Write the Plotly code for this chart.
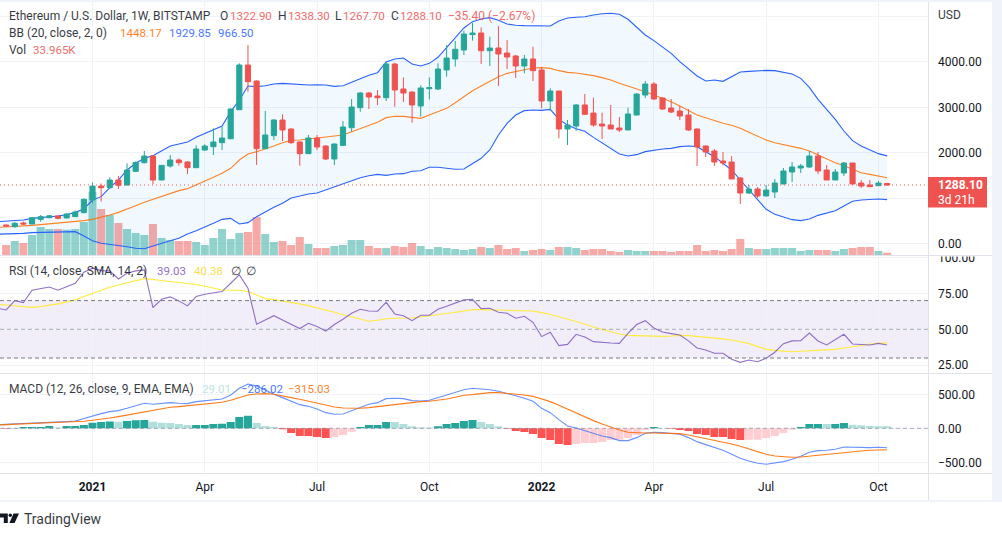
import pandas as pd
import plotly.graph_objects as go

W, H = 1002, 536
FONT = "Roboto"
GREEN, RED = "#26a69a", "#ef5350"
GRID, SEP, STRIP = "#f0f3fa", "#e0e3eb", "#f0f3fa"
BLUE, ORANGE = "#2962ff", "#ff6d00"

# weekly dates, first one lies just off the left edge
dates = pd.date_range("2020-10-19", periods=104, freq="7D")
candle_dates = dates[1:]

opens = [408,370,451,429,532,569,606,562,591,679,
 958,1266,1229,1398,1288,1589,1780,1927,1398,1707,
 1839,1795,1670,2059,2133,2221,2309,2947,3931,3579,
 2089,2375,2720,2522,2236,1979,2324,2147,1861,2162,
 2551,2992,3315,3249,3212,3953,3403,3337,3029,3410,
 3403,3822,4064,4262,4600,4636,4247,4306,4196,4130,
 3910,4064,3822,3139,3359,2522,2588,3051,2874,2632,
 2610,2544,2500,2830,3271,3513,3205,2984,2918,2830,
 2522,2147,2037,1817,1795,1443,1112,1200,1046,1134,
 1310,1575,1663,1685,1927,1619,1399,1553,1773,1332,
 1288,1274,1322.9]
highs = [415,473,481,569,628,628,620,664,723,995,
 1347,1325,1457,1486,1765,1802,2037,1949,1721,1949,
 1876,1817,2162,2184,2536,2573,2977,3968,4372,3594,
 2918,2734,2845,2536,2250,2390,2390,2162,2206,2698,
 3182,3337,3337,3381,4012,3983,3660,3351,3484,3660,
 3968,4372,4460,4687,4864,4761,4555,4790,4482,4152,
 4152,4335,3880,3418,3359,2720,3073,3293,3212,2882,
 3051,2786,2992,3307,3579,3557,3219,3183,3029,2962,
 2536,2162,2081,2015,1927,1465,1288,1244,1288,1420,
 1663,1795,1751,2037,2015,1729,1641,1795,1773,1399,
 1399,1377,1338.3]
lows = [370,349,415,429,481,554,532,554,591,664,
 885,921,1200,1200,1281,1582,1765,1303,1398,1670,
 1714,1531,1670,2044,1949,2059,2294,2940,3344,1729,
 2081,2279,2257,2192,1714,1979,2059,1839,1729,2147,
 2463,2903,2962,3051,3139,3014,3117,2661,2794,3175,
 3381,3675,3895,4152,4468,3954,3910,3469,3843,3645,
 3748,3579,2977,2926,2316,2170,2478,2830,2573,2302,
 2522,2456,2500,2830,3205,3161,2940,2874,2720,2478,
 1707,1905,1707,1721,1421,870,1090,1002,1046,1002,
 1310,1354,1553,1663,1531,1399,1399,1487,1310,1222,
 1244,1274,1267.7]
closes = [385,444,429,569,591,610,554,650,694,973,
 1266,1229,1398,1281,1618,1787,1927,1398,1721,1839,
 1780,1670,2081,2147,2236,2323,2962,3931,3564,2089,
 2390,2720,2500,2221,1979,2324,2125,1861,2191,2566,
 3006,3315,3227,3212,3953,3381,3315,3051,3425,3432,
 3843,4086,4277,4614,4636,4247,4306,4174,4108,3910,
 4064,3807,3139,3359,2522,2610,3051,2845,2610,2588,
 2522,2500,2852,3293,3513,3183,2962,2896,2808,2500,
 2125,2015,1795,1773,1421,1112,1200,1046,1178,1332,
 1597,1685,1707,1927,1597,1399,1575,1773,1310,1266,
 1252,1332,1288.1]
volume_k = [150,210,180,300,420,390,390,380,390,495,
 945,690,600,480,390,330,300,465,255,225,
 210,210,195,150,255,390,240,330,345,570,
 315,195,210,150,270,165,105,105,135,150,
 225,225,135,105,105,135,120,180,135,90,
 120,105,90,75,90,120,105,150,90,105,
 60,75,90,75,120,120,105,75,90,90,
 60,45,75,60,60,60,60,45,60,60,
 150,60,75,60,90,240,105,90,90,105,
 105,105,60,75,75,75,60,90,105,120,
 120,60,33.965]

bb_upper = [480,488,503,518,554,569,584,606,635,686,760,
 958,1032,1230,1399,1619,1766,1876,1935,2045,2148,
 2192,2236,2338,2427,2515,2588,2904,3161,3469,3455,
 3476,3513,3528,3513,3498,3491,3498,3491,3462,3476,
 3550,3631,3704,3763,3998,4064,4086,3954,3910,3968,
 4101,4313,4519,4747,4886,4945,4974,4916,4835,4806,
 4798,4798,4798,4791,4901,4967,4982,4996,5033,5062,
 5070,5048,4938,4776,4593,4468,4336,4189,4005,3858,
 3690,3579,3601,3572,3675,3778,3792,3807,3814,3807,
 3778,3733,3638,3440,3175,2955,2735,2478,2265,2148,
 2059,1979,1929.85]
bb_basis = [356,363,371,385,400,415,430,444,459,481,503,
 532,576,628,686,753,833,907,973,1032,1098,
 1164,1208,1289,1362,1457,1546,1656,1839,1971,2023,
 2081,2148,2221,2272,2280,2302,2316,2331,2368,2390,
 2463,2537,2610,2669,2772,2801,2801,2772,2757,2830,
 2904,2977,3102,3234,3366,3469,3564,3675,3748,3785,
 3836,3866,3873,3858,3807,3770,3755,3733,3697,3653,
 3601,3528,3469,3396,3344,3271,3198,3124,3029,2926,
 2830,2772,2706,2647,2603,2537,2449,2368,2280,2221,
 2184,2148,2096,2037,1949,1861,1780,1714,1641,1560,
 1523,1487,1448.17]
bb_lower = [205,209,224,224,239,246,253,261,268,261,165,
 62,4,-18,-33,-70,-106,-114,-55,11,62,
 114,209,283,356,444,532,554,430,459,591,
 701,797,885,1002,1046,1090,1112,1178,1244,1311,
 1377,1450,1494,1523,1501,1531,1538,1590,1604,1678,
 1678,1656,1634,1641,1766,1876,2059,2390,2647,2830,
 2926,2940,2933,2955,2735,2603,2529,2471,2338,2221,
 2096,1971,1927,1957,2023,2059,2081,2096,2133,2148,
 2133,2023,1913,1766,1619,1399,1178,958,753,642,
 576,525,503,540,620,664,723,826,929,958,
 973,980,966.5]

rsi = [64.7,63.5,70,68.6,77.2,78.4,79.5,77.2,79.5,82.1,89.8,
 92.6,90.9,90.7,85.1,89.1,90.7,91.4,65.1,70.9,72.6,
 69.8,66.3,72.8,74.4,75.3,76.3,82.1,87.9,78.6,53.5,
 56.5,59.5,56.5,53.5,50.5,54.2,51.9,48.8,53.3,57,
 61.2,64,62.8,62.6,68.8,60.7,59.5,56,59.8,59.8,
 64,66,68.1,70.5,70.9,64.4,64.7,61.9,
 61.2,57.7,59.1,54.9,44.9,47.9,38.6,39.5,46.5,44.7,
 41.4,41.2,40.5,40.2,47.2,53.3,56,50.9,48.1,47,
 46,41.9,37,35.6,33.3,33.3,29.1,27,28.6,27.4,
 29.8,34,40,41.9,42.1,47.4,41.9,39.1,42.8,46.5,
 39.8,39.3,39.1,40.2,39.03]
rsi_ma = [67.4,67,66.3,65.8,65.3,65.8,66.5,67.7,69.1,70.5,72.8,
 75.1,77.2,79.3,80.9,82.3,83.7,85.3,84.7,84,83.5,
 83,82.1,81.2,80,78.8,77.4,77.2,77.2,76.3,74,
 71.4,70.7,69.8,68.6,67.7,66.5,65.1,63.5,61.9,60.2,
 58.6,57,55.6,56.3,57.4,57.7,57.7,57.9,58.6,59.3,
 60,60.9,61.9,62.8,63.7,63.7,63.7,63.5,
 63.3,63,63,62.8,61.6,60.5,58.8,57.2,55.6,53.7,
 51.6,50,48.1,46.7,45.8,45.6,45.1,45.1,45.1,45.3,
 45.8,45.6,45.1,44.7,44.2,43.3,42.6,41.4,40,38.1,
 36,35.3,34.9,34.4,34.7,34.9,35.1,35.3,36,37,
 37.9,38.6,39.3,40.5,40.38]

macd = [54,59,59,64,74,83,88,93,98,108,147,
 181,216,245,260,294,328,368,353,363,377,
 368,363,392,407,417,431,490,588,652,622,
 564,500,451,402,348,323,284,230,206,211,
 255,304,353,377,436,441,436,407,402,412,
 451,490,539,568,588,583,568,544,515,480,
 441,397,294,230,127,34,5,-34,-78,-113,
 -137,-181,-181,-137,-74,-59,-64,-74,-88,-137,
 -196,-240,-284,-323,-382,-441,-480,-515,-529,-515,
 -490,-456,-412,-353,-328,-323,-309,-274,-279,-284,
 -284,-279,-286.02]
macd_signal = [49,54,59,59,64,69,74,78,83,88,103,
 118,132,152,172,196,221,245,270,289,309,
 319,333,343,353,368,382,412,451,490,505,
 510,500,480,451,426,397,368,338,314,299,
 294,294,304,319,338,353,372,387,392,397,
 412,431,456,485,495,515,524,524,515,505,
 490,470,431,392,338,279,221,167,113,64,
 15,-25,-59,-69,-69,-69,-69,-74,-78,-98,
 -123,-147,-172,-196,-230,-265,-304,-343,-382,-407,
 -421,-426,-421,-407,-397,-387,-372,-358,-343,-333,
 -323,-317,-315.03]
macd_hist = [-5,5,20,20,20,34,10,34,34,49,
 83,93,100,98,108,120,122,98,81,78,
 64,49,49,50,64,66,93,167,186,78,
 34,20,-15,-69,-112,-113,-127,-142,-132,-98,
 -49,20,49,50,93,92,64,29,15,10,
 29,64,78,108,122,93,64,29,-5,-39,
 -54,-83,-142,-172,-230,-245,-230,-216,-215,-201,
 -172,-170,-142,-98,-25,20,5,-5,-25,-39,
 -83,-98,-127,-128,-157,-172,-170,-168,-142,-113,
 -69,-20,20,64,65,63,64,78,54,44,
 32,30,29.01]

time_ticks = ["2021-01-04","2021-04-05","2021-07-05","2021-10-04","2022-01-03","2022-04-04","2022-07-04","2022-10-03"]
time_labels = ["<b>2021</b>","Apr","Jul","Oct","<b>2022</b>","Apr","Jul","Oct"]
price_ticks = [0,1000,2000,3000,4000,5000]
price_labels = ["0.00","","2000.00","3000.00","4000.00",""]
rsi_ticks = [25,50,75,100]
macd_ticks = [-500,0,500]


def px(x):
    return x / W


def py(y):
    return 1 - y / H


# 8.637 px per week, 2021-01-04 sits at x=92.5, plot area 928 px wide
first = pd.Timestamp("2021-01-04")
week = pd.Timedelta(days=7)
x_range = [first - week * (92.5 / 8.637), first + week * ((928 - 92.5) / 8.637)]
x_range = [str(t) for t in x_range]

PANE_MAIN = (2, 255)
PANE_RSI = (256.5, 373)
PANE_MACD = (374, 473.5)


def pane_range(zero_y, per_unit, pane, zero_val=0):
    top, bottom = pane
    return [zero_val - (bottom - zero_y) / per_unit, zero_val + (zero_y - top) / per_unit]


price_range = pane_range(243.5, 0.0454, PANE_MAIN)
rsi_range = pane_range(329.3, 1.435, PANE_RSI, 50)
macd_range = pane_range(428.3, 0.068, PANE_MACD)

fig = go.Figure()
LW = 1.1

vol_cols = ["rgba(38,166,154,0.5)" if c >= o else "rgba(239,83,80,0.5)" for o, c in zip(opens, closes)]
fig.add_trace(go.Bar(x=candle_dates, y=volume_k, marker=dict(color=vol_cols, line_width=0), xaxis="x", yaxis="y"))

fig.add_trace(go.Scatter(x=dates, y=bb_lower, mode="lines", line=dict(color=BLUE, width=LW), opacity=0.7, xaxis="x", yaxis="y2"))
fig.add_trace(go.Scatter(x=dates, y=bb_upper, mode="lines", line=dict(color=BLUE, width=LW), xaxis="x", yaxis="y2",
                         fill="tonexty", fillcolor="rgba(33,150,243,0.06)", opacity=0.7))
fig.add_trace(go.Scatter(x=dates, y=bb_basis, mode="lines", line=dict(color=ORANGE, width=LW), opacity=0.85, xaxis="x", yaxis="y2"))

fig.add_trace(go.Candlestick(
    x=candle_dates, open=opens, high=highs, low=lows, close=closes,
    increasing=dict(line=dict(color=GREEN, width=1), fillcolor=GREEN),
    decreasing=dict(line=dict(color=RED, width=1), fillcolor=RED),
    whiskerwidth=0, xaxis="x", yaxis="y3"))

fig.add_trace(go.Scatter(x=dates, y=rsi_ma, mode="lines", line=dict(color="#ffeb3b", width=LW), xaxis="x2", yaxis="y4"))
fig.add_trace(go.Scatter(x=dates, y=rsi, mode="lines", line=dict(color="#7e57c2", width=LW), opacity=0.85, xaxis="x2", yaxis="y4"))

hist_cols = []
prev = 0
for h in macd_hist:
    if h >= 0:
        hist_cols.append("#26a69a" if h >= prev else "#b2dfdb")
    else:
        hist_cols.append("#ff5252" if h <= prev else "#ffcdd2")
    prev = h
fig.add_trace(go.Bar(x=candle_dates, y=macd_hist, marker=dict(color=hist_cols, line_width=0), xaxis="x3", yaxis="y5"))
fig.add_trace(go.Scatter(x=dates, y=macd, mode="lines", line=dict(color=BLUE, width=LW), opacity=0.7, xaxis="x3", yaxis="y5"))
fig.add_trace(go.Scatter(x=dates, y=macd_signal, mode="lines", line=dict(color=ORANGE, width=LW), opacity=0.9, xaxis="x3", yaxis="y5"))

xcommon = dict(type="date", range=x_range, domain=[0, px(928)], tickmode="array", tickvals=time_ticks,
               ticktext=time_labels, showgrid=True, gridcolor=GRID, gridwidth=1, zeroline=False, showline=False,
               ticks="", rangeslider=dict(visible=False), fixedrange=True, automargin=False)
ycommon = dict(side="right", showline=False, zeroline=False, ticks="", fixedrange=True, automargin=False,
               tickfont=dict(family=FONT, size=12, color="#131722"), ticklabelstandoff=9)


def dom(p):
    return [py(p[1]), py(p[0])]


layout = dict(
    width=W, height=H, margin=dict(l=0, r=0, t=0, b=0, autoexpand=False), autosize=False,
    paper_bgcolor="white", plot_bgcolor="white", showlegend=False, hovermode=False,
    bargap=0.07, barmode="overlay", boxgap=0.15,
    xaxis=dict(xcommon, anchor="y", showticklabels=False),
    xaxis2=dict(xcommon, anchor="y4", showticklabels=False),
    xaxis3=dict(xcommon, anchor="y5", showticklabels=True, ticklabelstandoff=4,
                tickfont=dict(family=FONT, size=12, color="#131722")),
    yaxis=dict(domain=dom(PANE_MAIN), range=[0, 3795], showticklabels=False, showgrid=False, zeroline=False,
               fixedrange=True, anchor="x", automargin=False),
    yaxis2=dict(ycommon, domain=dom(PANE_MAIN), range=price_range, overlaying="y", anchor="x",
                tickmode="array", tickvals=price_ticks, ticktext=price_labels, showgrid=True, gridcolor=GRID),
    yaxis3=dict(domain=dom(PANE_MAIN), range=price_range, overlaying="y", anchor="x", showticklabels=False,
                showgrid=False, zeroline=False, fixedrange=True, side="right", automargin=False),
    yaxis4=dict(ycommon, domain=dom(PANE_RSI), range=rsi_range, anchor="x2", tickmode="array", tickvals=rsi_ticks,
                tickformat=".2f", showgrid=True, gridcolor=GRID),
    yaxis5=dict(ycommon, domain=dom(PANE_MACD), range=macd_range, anchor="x3", tickmode="array", tickvals=macd_ticks,
                tickformat=".2f", showgrid=True, gridcolor=GRID),
)


def rect(x0, y0, x1, y1, color, layer="above"):
    return dict(type="rect", xref="paper", yref="paper", x0=px(x0), x1=px(x1), y0=py(y0), y1=py(y1),
                fillcolor=color, line_width=0, layer=layer)


def hline(val, axis, color, dash, width=1):
    return dict(type="line", xref="paper", yref=axis, x0=0, x1=px(928), y0=val, y1=val,
                line=dict(color=color, width=width, dash=dash), layer="above")


def poly(points, color):
    d = "M " + " L ".join(f"{px(a):.5f},{py(b):.5f}" for a, b in points) + " Z"
    return dict(type="path", xref="paper", yref="paper", path=d, fillcolor=color, line_width=0, layer="above")


shapes = [
    dict(type="rect", xref="paper", yref="y4", x0=0, x1=px(928), y0=30, y1=70,
         fillcolor="rgba(126,87,194,0.1)", line_width=0, layer="below"),
    hline(70, "y4", "#787b86", "4px,3px"),
    hline(30, "y4", "#787b86", "4px,3px"),
    hline(50, "y4", "rgba(120,123,134,0.6)", "4px,3px"),
    hline(0, "y5", "rgba(120,123,134,0.6)", "4px,3px"),
    hline(closes[-1], "y2", RED, "1px,3px"),
    # clip of the RSI axis top and pane separators
    rect(929, 249.5, 992, 256.5, "white"),
    rect(0, 255, 992, 256, SEP),
    rect(0, 373, 992, 374, SEP),
    rect(0, 473, 992, 474, SEP),
    rect(928, 2, 929, 500, SEP),
    rect(0, 0, W, 2, STRIP),
    rect(992, 0, W, 502, STRIP),
    rect(0, 500, W, 502, STRIP),
    # last-price tag
    rect(928, 177, 987, 207.5, RED),
    # TradingView logo
    poly([(0, 513.5), (7.8, 513.5), (7.8, 523), (3.8, 523), (3.8, 517.5), (0, 517.5)], "#131722"),
    poly([(13.5, 513.5), (19, 513.5), (14.6, 523), (9.4, 523)], "#131722"),
    dict(type="circle", xref="paper", yref="paper", x0=px(8.6), x1=px(12), y0=py(517), y1=py(513.6),
         fillcolor="#131722", line_width=0, layer="above"),
]
layout["shapes"] = shapes

DARK = "#131722"
L_BLUE = "#2962ff"
S_TXT, S_VAL = 12, 11.5
texts = [
    (8, 16, "Ethereum / U.S. Dollar, 1W, BITSTAMP", DARK, S_TXT),
    (219, 16, "O", DARK, S_TXT), (229, 16, "1322.90", RED, S_VAL),
    (277, 16, "H", DARK, S_TXT), (287, 16, "1338.30", RED, S_VAL),
    (334, 16, "L", DARK, S_TXT), (342, 16, "1267.70", RED, S_VAL),
    (389.5, 16, "C", DARK, S_TXT), (399, 16, "1288.10", RED, S_VAL),
    (446.5, 16, "\u221235.40 (\u22122.67%)", RED, 12),
    (8, 33, "BB (20, close, 2, 0)", DARK, S_TXT),
    (118.5, 33, "1448.17", ORANGE, S_VAL), (168, 33, "1929.85", L_BLUE, S_VAL), (216.5, 33, "966.50", L_BLUE, S_VAL),
    (8, 50, "Vol", DARK, S_TXT), (32, 50, "33.965K", RED, S_VAL),
    (8, 270.5, "RSI (14, close, SMA, 14, 2)", DARK, S_TXT),
    (156, 270.5, "39.03", "#7e57c2", S_VAL), (193, 270.5, "40.38", "#fdd835", S_VAL),
    (230, 270.5, "\u2205", DARK, S_VAL), (245, 270.5, "\u2205", DARK, S_VAL),
    (8, 389, "MACD (12, 26, close, 9, EMA, EMA)", DARK, S_TXT),
    (200.5, 389, "29.01", "#b2dfdb", S_VAL), (240, 389, "\u2212286.02", L_BLUE, S_VAL), (287, 389, "\u2212315.03", ORANGE, S_VAL),
    (937, 14.5, "USD", DARK, 12),
    (23, 518.5, "TradingView", DARK, 14),
]
annots = []
for x, y, t, c, size in texts:
    annots.append(dict(xref="paper", yref="paper", x=px(x), y=py(y), text=t, showarrow=False, xanchor="left",
                       yanchor="middle", font=dict(family=FONT, size=size, color=c), borderpad=0, opacity=0.85))
for y, t in ((185.5, "<b>1288.10</b>"), (200, "3d 21h")):
    annots.append(dict(xref="paper", yref="paper", x=px(937), y=py(y), text=t, showarrow=False, xanchor="left",
                       yanchor="middle", font=dict(family=FONT, size=12, color="white"), borderpad=0))
layout["annotations"] = annots

fig.update_layout(**layout)
for name, arr in dict(o=opens, h=highs, l=lows, c=closes, v=volume_k, hist=macd_hist).items():
    assert len(arr) == 103, (name, len(arr))
for name, arr in dict(u=bb_upper, b=bb_basis, lo=bb_lower, r=rsi, rm=rsi_ma, m=macd, s=macd_signal).items():
    assert len(arr) == 104, (name, len(arr))

fig.write_html("out.html", config=dict(displayModeBar=False, staticPlot=True),
               post_script="document.body.style.margin='0';document.body.style.overflow='hidden';")
